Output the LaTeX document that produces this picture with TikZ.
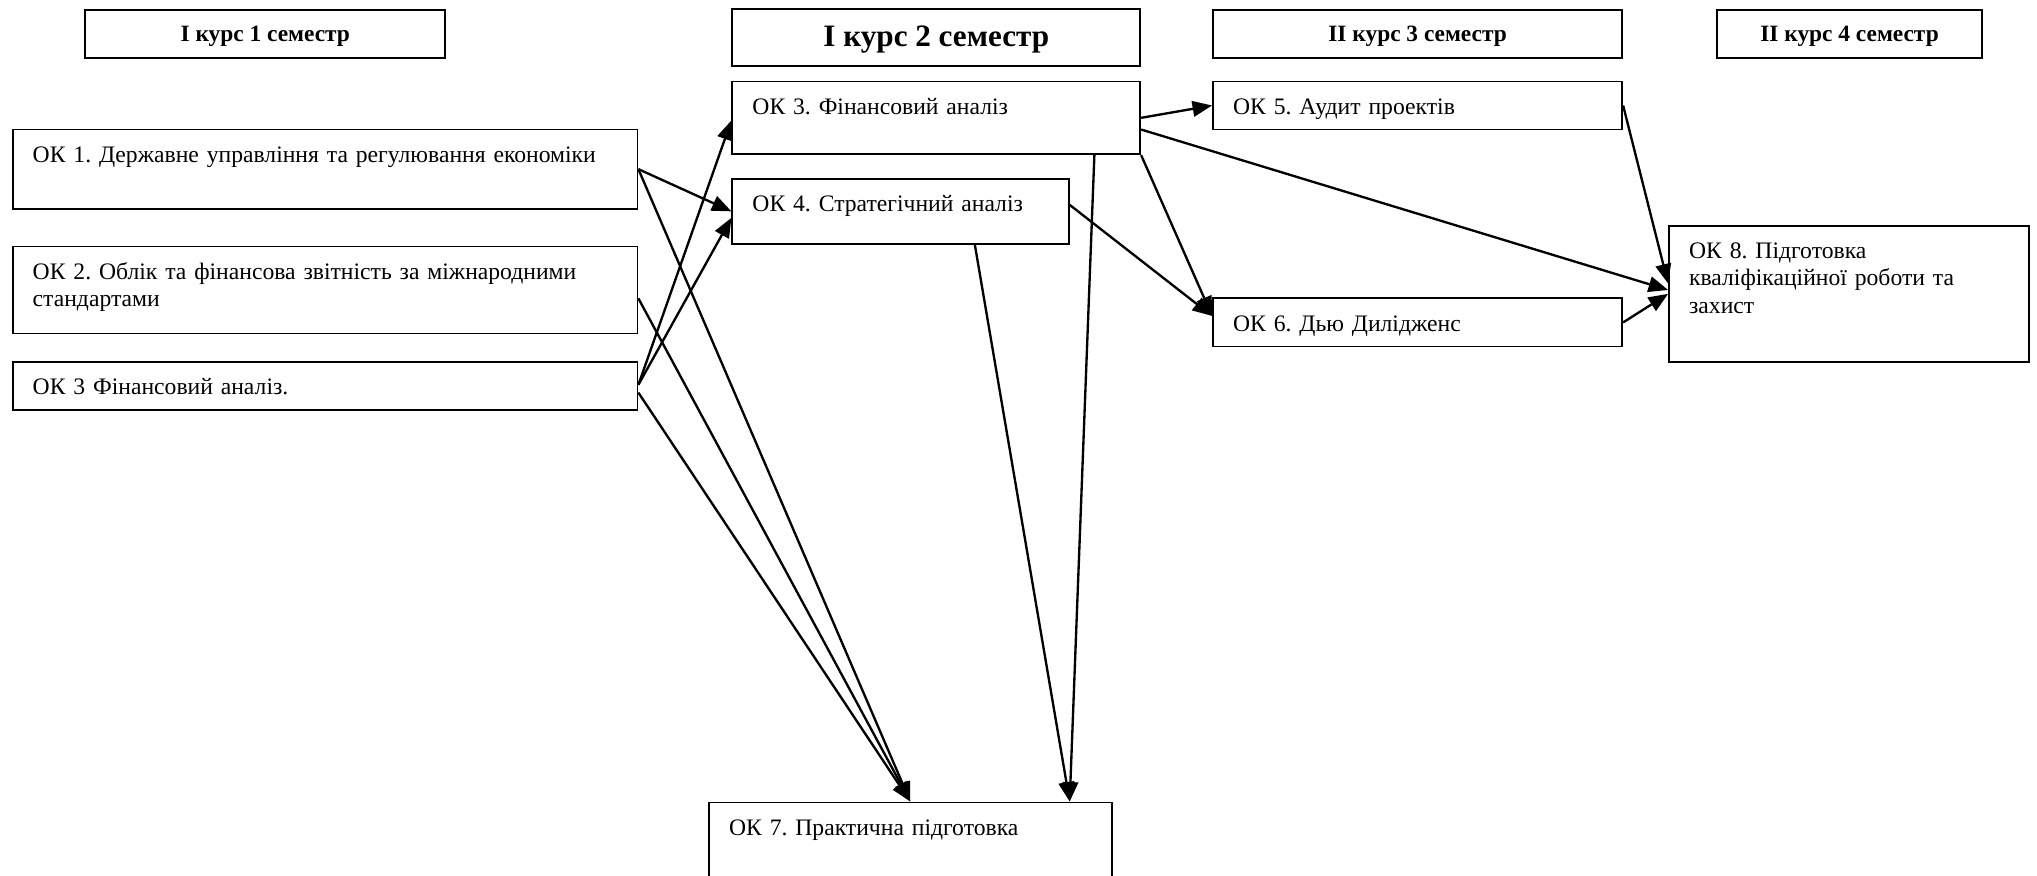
\documentclass[tikz,border=0pt]{standalone}
\usepackage{fontspec}
\setmainfont{Liberation Serif}
\usetikzlibrary{arrows.meta}
\frenchspacing
\begin{document}
\begin{tikzpicture}[x=1pt,y=-1pt,
  box/.style={draw, line width=1.4pt, inner sep=0pt, anchor=north west},
  txt/.style={anchor=base west, inner sep=0pt, font=\frenchspacing\fontsize{18.2}{21}\selectfont, text width=#1, align=left},
  hdr/.style={font=\bfseries\fontsize{18}{21}\selectfont, text depth=1pt},
  hdrbig/.style={font=\bfseries\fontsize{24}{28}\selectfont, text depth=1.5pt},
  arr/.style={line width=1.8pt, -{Triangle[length=15pt,width=12pt]}},
  ln/.style={line width=1.8pt}]
\clip (0,0) rectangle (1568,674);
\useasboundingbox (0,0) rectangle (1568,674);
% headers
\node[box, hdr, minimum width=277pt, minimum height=37pt] (h1) at (65,7) {I курс 1 семестр};
\node[box, hdrbig, minimum width=314pt, minimum height=44pt] (h2) at (563,6) {I курс 2 семестр};
\node[box, hdr, minimum width=315pt, minimum height=37pt] (h3) at (933,7) {II курс 3 семестр};
\node[box, hdr, minimum width=204pt, minimum height=37pt] (h4) at (1321,7) {II курс 4 семестр};
% boxes
\node[box, minimum width=481pt, minimum height=61pt] (ok1) at (9,99) {};
\node[box, minimum width=481pt, minimum height=67pt] (ok2) at (9,189) {};
\node[box, minimum width=481pt, minimum height=37pt] (ok3a) at (9,278) {};
\node[box, minimum width=314pt, minimum height=56pt] (ok3b) at (563,62) {};
\node[box, minimum width=259pt, minimum height=50pt] (ok4) at (563,137) {};
\node[box, minimum width=315pt, minimum height=37pt] (ok5) at (933,62) {};
\node[box, minimum width=315pt, minimum height=37pt] (ok6) at (933,229) {};
\node[box, minimum width=277pt, minimum height=105pt] (ok8) at (1284,173) {};
\node[box, minimum width=310pt, minimum height=80pt] (ok7) at (545,617) {};
% texts
\node[txt=460pt] (t1) at ([xshift=16pt,yshift=-26pt]ok1.north west) {ОК 1. Державне управління та регулювання економіки};
\node[txt=460pt] (t2) at ([xshift=16pt,yshift=-26pt]ok2.north west) {ОК 2. Облік та фінансова звітність за міжнародними\\стандартами};
\node[txt=460pt] (t3a) at ([xshift=16pt,yshift=-26pt]ok3a.north west) {ОК 3 Фінансовий аналіз.};
\node[txt=290pt] (t3b) at ([xshift=16pt,yshift=-26pt]ok3b.north west) {ОК 3. Фінансовий аналіз};
\node[txt=240pt] (t4) at ([xshift=16pt,yshift=-26pt]ok4.north west) {ОК 4. Стратегічний аналіз};
\node[txt=290pt] (t5) at ([xshift=16pt,yshift=-26pt]ok5.north west) {ОК 5. Аудит проектів};
\node[txt=290pt] (t6) at ([xshift=16pt,yshift=-26pt]ok6.north west) {ОК 6. Дью Дилідженс};
\node[txt=255pt] (t8) at ([xshift=16pt,yshift=-26pt]ok8.north west) {ОК 8. Підготовка\\кваліфікаційної роботи та\\захист};
\node[txt=290pt] (t7) at ([xshift=16pt,yshift=-26pt]ok7.north west) {ОК 7. Практична підготовка};
% connectors
\draw[arr] (ok1.east) -- (ok4.west);
\draw[arr] (ok1.east) -- (ok7.north);
\draw[arr] ([yshift=-6.5pt]ok2.east) -- (ok7.north);
\draw[arr] ([yshift=1pt]ok3a.east) -- ([yshift=-2pt]ok3b.west);
\draw[arr] ([yshift=1pt]ok3a.east) -- ([yshift=-5pt]ok4.west);
\draw[arr] ([yshift=-5pt]ok3a.east) -- (ok7.north);
\draw[arr] ([xshift=-36pt]ok3b.south east) -- ([xshift=-33pt]ok7.north east);
\draw[arr] ([xshift=-73pt]ok4.south east) -- ([xshift=-33pt]ok7.north east);
\draw[arr] (ok3b.east) -- (ok5.west);
\draw[arr] ([yshift=-9pt]ok3b.east) -- ([yshift=3pt]ok8.west);
\draw[arr] (ok3b.south east) -- ([yshift=5pt]ok6.west);
\draw[arr] ([yshift=5pt]ok4.east) -- ([yshift=5pt]ok6.west);
\draw[arr] (ok5.east) -- ([yshift=8pt]ok8.west);
\draw[arr] (ok6.east) -- (ok8.west);
\end{tikzpicture}
\end{document}
